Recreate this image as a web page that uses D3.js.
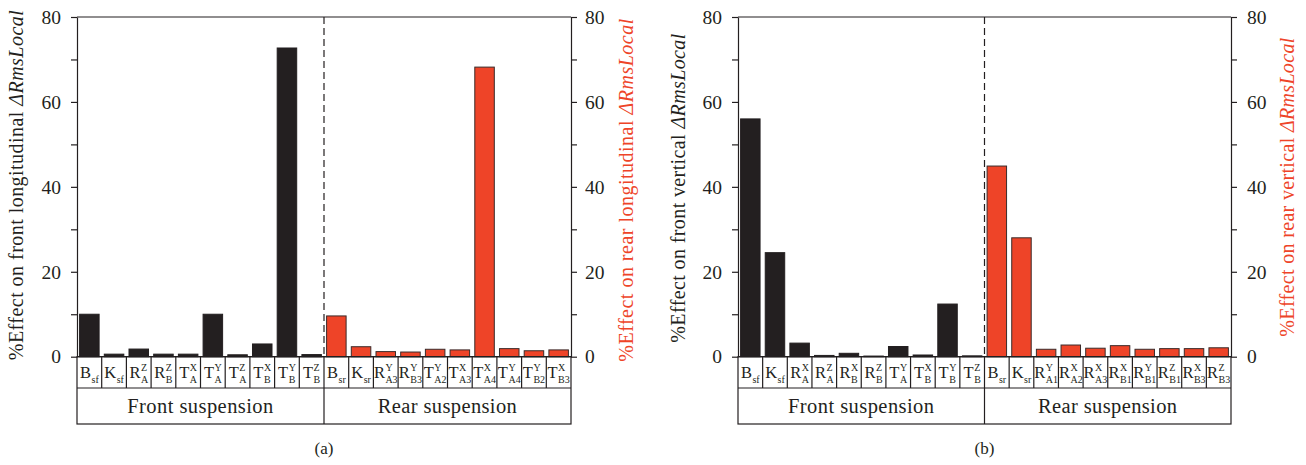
<!DOCTYPE html>
<html><head><meta charset="utf-8">
<script src="https://cdn.jsdelivr.net/npm/d3@7"></script>
<style>
body{margin:0;background:#fff}
svg{display:block}
text{font-family:"Liberation Serif","DejaVu Serif",serif;fill:#231f20}
</style>
</head><body><svg id="chart" width="1306" height="465"></svg>
<script>
// Sensitivity of the local RMS response to each suspension parameter (%)
const frontLongCats = ["B_sf","K_sf","R_A^Z","R_B^Z","T_A^X","T_A^Y","T_A^Z","T_B^X","T_B^Y","T_B^Z"];
const frontLongVals = [10.0,0.6,1.8,0.6,0.6,10.0,0.45,3.0,72.7,0.5];
const rearLongCats  = ["B_sr","K_sr","R_A3^Y","R_B3^Y","T_A2^Y","T_A3^X","T_A4^X","T_A4^Y","T_B2^Y","T_B3^X"];
const rearLongVals  = [9.6,2.35,1.2,1.1,1.75,1.6,68.2,1.9,1.4,1.6];
const frontVertCats = ["B_sf","K_sf","R_A^X","R_A^Z","R_B^X","R_B^Z","T_A^Y","T_B^X","T_B^Y","T_B^Z"];
const frontVertVals = [56.0,24.5,3.2,0.3,0.8,0.15,2.4,0.4,12.4,0.2];
const rearVertCats  = ["B_sr","K_sr","R_A1^Y","R_A2^X","R_A3^X","R_B1^X","R_B1^Y","R_B1^Z","R_B3^X","R_B3^Z"];
const rearVertVals  = [44.9,28.0,1.75,2.75,2.0,2.6,1.75,1.9,1.9,2.1];
const yTicks = [0,10,20,30,40,50,60,70,80];
const groupNames = ["Front suspension","Rear suspension"];
const panelLabels = ["(a)","(b)"];

const INK = "#231f20", RED = "#ee4428";
const svg = d3.select("#chart");

const y = d3.scaleLinear().domain([0,80]).range([356.7,17]);

function parseLabel(s){
  const m = s.match(/^([A-Z])(?:_([^\^]+))?(?:\^(.+))?$/);
  return {base:m[1], sub:m[2]||"", sup:m[3]||""};
}

// spread a text's glyphs so that it runs to the given length
function fitLength(sel, len){
  const n = sel.node();
  const w = n.getComputedTextLength();
  const chars = n.textContent.length;
  sel.attr("letter-spacing", ((len - w)/(chars - 1)).toFixed(3));
}

function drawPanel(cfg){
  const g = svg.append("g");
  const cats = cfg.frontCats.concat(cfg.rearCats);
  const vals = cfg.frontVals.concat(cfg.rearVals);
  const x = d3.scaleBand().domain(d3.range(cats.length))
      .range([cfg.left,cfg.right]).paddingInner(0.21).paddingOuter(0.105);
  const step = x.step();
  const edge = i => x(i) - step*x.paddingInner()/2;
  const mid = edge(cfg.frontCats.length);
  const y0 = y(0), rowB = 388, tableB = 424;

  // bars
  g.selectAll("rect.bar").data(vals).join("rect")
    .attr("x",(d,i)=>x(i)).attr("width",x.bandwidth())
    .attr("y",d=>y(d)).attr("height",d=>y0-y(d))
    .attr("fill",(d,i)=>i<cfg.frontCats.length?INK:RED)
    .attr("stroke",(d,i)=>i<cfg.frontCats.length?INK:"#3a2b2a")
    .attr("stroke-width",1);

  // frame lines
  g.append("line").attr("x1",cfg.left).attr("x2",cfg.right).attr("y1",y(80)).attr("y2",y(80))
    .attr("stroke",INK).attr("stroke-width",1.2);
  g.append("line").attr("x1",mid).attr("x2",mid).attr("y1",y(80)).attr("y2",y0)
    .attr("stroke",INK).attr("stroke-width",1.2).attr("stroke-dasharray","7,4");

  // axes
  const fmt = d => d%20===0 ? d : "";
  const axL = d3.axisLeft(y).tickValues(yTicks).tickFormat(fmt).tickSize(6).tickSizeOuter(0).tickPadding(10);
  const axR = d3.axisRight(y).tickValues(yTicks).tickFormat(fmt).tickSize(6).tickSizeOuter(0).tickPadding(cfg.rPad);
  [[axL,cfg.left],[axR,cfg.right]].forEach(([ax,px])=>{
    const a = g.append("g").attr("transform",`translate(${px},0)`).call(ax);
    a.selectAll("path,line").attr("stroke",INK).attr("stroke-width",1.2);
    a.selectAll("text").attr("font-size",19.5).attr("font-family","Liberation Serif").attr("fill",INK);
  });
  g.append("line").attr("x1",cfg.left).attr("x2",cfg.right).attr("y1",y0).attr("y2",y0)
    .attr("stroke",INK).attr("stroke-width",1.2);

  // label table
  const tb = g.append("g").attr("stroke",INK).attr("stroke-width",1.2);
  tb.append("rect").attr("x",cfg.left).attr("y",y0).attr("width",cfg.right-cfg.left).attr("height",tableB-y0).attr("fill","none");
  tb.append("line").attr("x1",cfg.left).attr("x2",cfg.right).attr("y1",rowB).attr("y2",rowB);
  tb.append("line").attr("x1",mid).attr("x2",mid).attr("y1",y0).attr("y2",tableB);
  tb.selectAll("line.sep").data(d3.range(1,cats.length).filter(i=>i!==cfg.frontCats.length)).join("line")
    .attr("x1",edge).attr("x2",edge).attr("y1",y0).attr("y2",rowB);

  cats.forEach((c,i)=>{
    const p = parseLabel(c);
    const cg = g.append("g");
    const main = cg.append("text").attr("font-size",16.5).attr("y",378).text(p.base);
    const sup = cg.append("text").attr("font-size",10).attr("y",371).text(p.sup);
    const sub = cg.append("text").attr("font-size",10).attr("y",382.5).text(p.sub);
    const wb = main.node().getComputedTextLength();
    const ws = Math.max(sup.node().getComputedTextLength(), sub.node().getComputedTextLength());
    const x0 = x(i) + x.bandwidth()/2 - (wb+ws+0.5)/2;
    main.attr("x",x0); sup.attr("x",x0+wb+0.5); sub.attr("x",x0+wb+0.5);
  });

  [[cfg.left,mid],[mid,cfg.right]].forEach(([a,b],k)=>{
    const t = g.append("text").attr("x",(a+b)/2).attr("y",412.5).attr("text-anchor","middle")
      .attr("font-size",20.5).text(groupNames[k]);
    fitLength(t, cfg.groupLen[k]);
  });

  g.append("text").attr("x",mid).attr("y",454).attr("text-anchor","middle")
    .attr("font-size",17).text(cfg.caption);

  // axis titles
  cfg.titles.forEach(t=>{
    const tx = g.append("text").attr("transform",`translate(${t.x},${t.y}) rotate(-90)`)
      .attr("text-anchor","middle").attr("dy","0.32em").attr("font-size",20)
      .style("fill",t.color);
    tx.append("tspan").text(t.text+" ");
    tx.append("tspan").attr("font-style","italic").text("ΔRmsLocal");
    fitLength(tx, t.len);
  });
}

drawPanel({left:77,right:571,rPad:8,caption:panelLabels[0],groupLen:[146,139],
  frontCats:frontLongCats,frontVals:frontLongVals,rearCats:rearLongCats,rearVals:rearLongVals,
  titles:[{x:16.5,y:185,len:350,text:"%Effect on front longitudinal",color:INK},
          {x:627,y:190,len:343,text:"%Effect on rear longitudinal",color:RED}]});
drawPanel({left:738,right:1231,rPad:10,caption:panelLabels[1],groupLen:[146,139],
  frontCats:frontVertCats,frontVals:frontVertVals,rearCats:rearVertCats,rearVals:rearVertVals,
  titles:[{x:679,y:188,len:309,text:"%Effect on front vertical",color:INK},
          {x:1288,y:187,len:299,text:"%Effect on rear vertical",color:RED}]});
</script>
</body></html>
